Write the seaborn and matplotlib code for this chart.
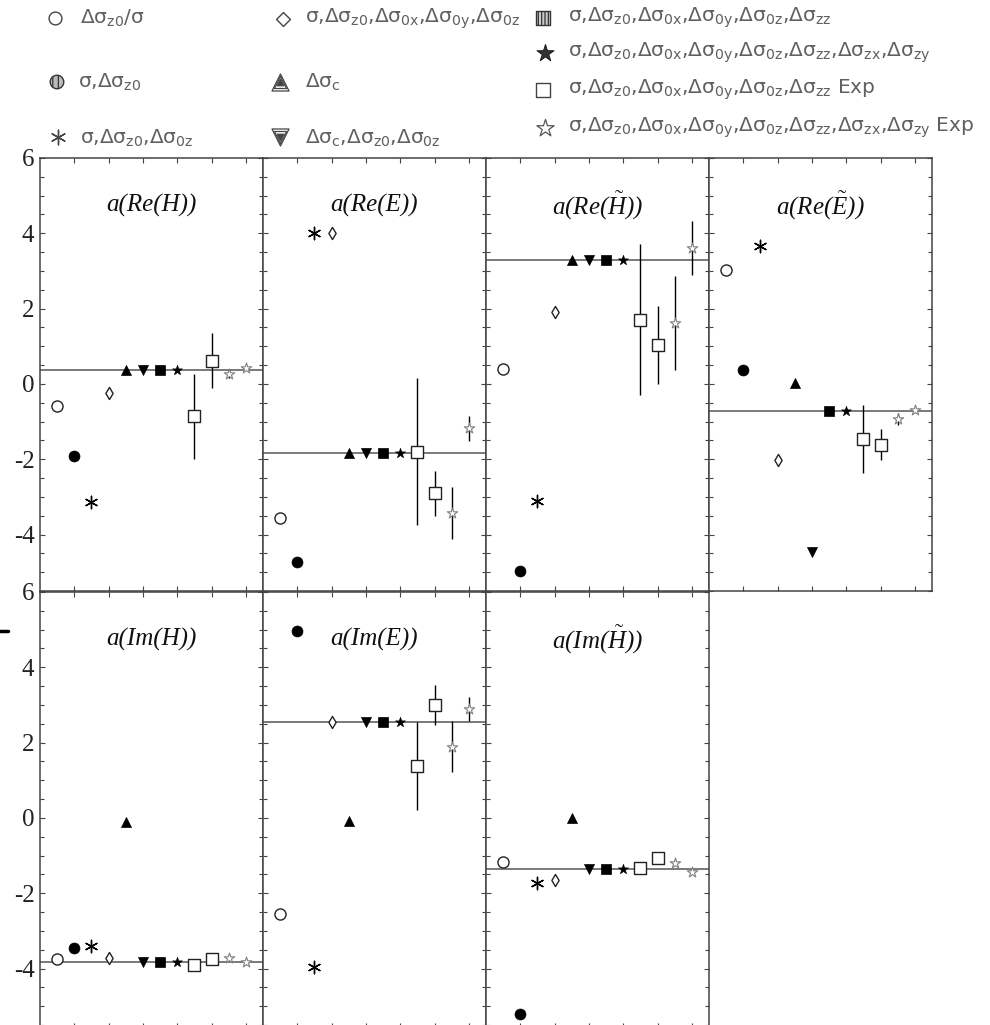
import numpy as np
import pandas as pd
import matplotlib
matplotlib.use("Agg")
import matplotlib.pyplot as plt
from matplotlib.ticker import FixedLocator, MultipleLocator
from matplotlib.lines import Line2D
import seaborn as sns

# ---------------- data ----------------
method_x = [1, 2, 3, 4, 5, 6, 7, 8, 9, 10, 11, 12]

legend_labels = [
    r"Δσ$_{\mathsf{z0}}$/σ",
    r"σ,Δσ$_{\mathsf{z0}}$",
    r"σ,Δσ$_{\mathsf{z0}}$,Δσ$_{\mathsf{0z}}$",
    r"σ,Δσ$_{\mathsf{z0}}$,Δσ$_{\mathsf{0x}}$,Δσ$_{\mathsf{0y}}$,Δσ$_{\mathsf{0z}}$",
    r"Δσ$_{\mathsf{c}}$",
    r"Δσ$_{\mathsf{c}}$,Δσ$_{\mathsf{z0}}$,Δσ$_{\mathsf{0z}}$",
    r"σ,Δσ$_{\mathsf{z0}}$,Δσ$_{\mathsf{0x}}$,Δσ$_{\mathsf{0y}}$,Δσ$_{\mathsf{0z}}$,Δσ$_{\mathsf{zz}}$",
    r"σ,Δσ$_{\mathsf{z0}}$,Δσ$_{\mathsf{0x}}$,Δσ$_{\mathsf{0y}}$,Δσ$_{\mathsf{0z}}$,Δσ$_{\mathsf{zz}}$,Δσ$_{\mathsf{zx}}$,Δσ$_{\mathsf{zy}}$",
    r"σ,Δσ$_{\mathsf{z0}}$,Δσ$_{\mathsf{0x}}$,Δσ$_{\mathsf{0y}}$,Δσ$_{\mathsf{0z}}$,Δσ$_{\mathsf{zz}}$ Exp",
    r"σ,Δσ$_{\mathsf{z0}}$,Δσ$_{\mathsf{0x}}$,Δσ$_{\mathsf{0y}}$,Δσ$_{\mathsf{0z}}$,Δσ$_{\mathsf{zz}}$,Δσ$_{\mathsf{zx}}$,Δσ$_{\mathsf{zy}}$ Exp",
]

panel_titles = ["a(Re(H))", "a(Re(E))", r"a(Re($\tilde{H}$))", r"a(Re($\tilde{E}$))",
                "a(Im(H))", "a(Im(E))", r"a(Im($\tilde{H}$))"]

re_H = [-0.58, -1.92, -3.14, -0.24, 0.38, 0.38, 0.38, 0.38, -0.86, 0.61, 0.27, 0.42]
re_H_err = [0, 0, 0, 0, 0, 0, 0, 0, 1.13, 0.73, 0.12, 0]
re_H_ref = 0.38

re_E = [-3.57, -4.74, 4.0, 4.0, -1.83, -1.83, -1.83, -1.83, -1.80, -2.90, -3.43, -1.18]
re_E_err = [0, 0, 0, 0, 0, 0, 0, 0, 1.95, 0.60, 0.70, 0.34]
re_E_ref = -1.83

re_Ht = [0.40, -4.96, -3.10, 1.92, 3.30, 3.30, 3.30, 3.30, 1.71, 1.04, 1.62, 3.61]
re_Ht_err = [0, 0, 0, 0, 0, 0, 0, 0, 2.0, 1.03, 1.24, 0.72]
re_Ht_ref = 3.30

re_Et = [3.03, 0.38, 3.67, -2.01, 0.02, -4.47, -0.72, -0.72, -1.46, -1.61, -0.93, -0.68]
re_Et_err = [0, 0, 0, 0, 0, 0, 0, 0, 0.90, 0.40, 0.15, 0]
re_Et_ref = -0.72

im_H = [-3.75, -3.46, -3.39, -3.72, -0.12, -3.84, -3.84, -3.84, -3.90, -3.75, -3.72, -3.84]
im_H_err = [0, 0, 0, 0, 0, 0, 0, 0, 0, 0, 0, 0]
im_H_ref = -3.84

im_E = [-2.55, 4.97, -3.95, 2.56, -0.07, 2.56, 2.56, 2.56, 1.38, 2.99, 1.89, 2.89]
im_E_err = [0, 0, 0, 0, 0, 0, 0, 0, 1.18, 0.53, 0.68, 0.31]
im_E_ref = 2.56

im_Ht = [-1.18, -5.20, -1.74, -1.66, 0.0, -1.37, -1.37, -1.37, -1.32, -1.07, -1.21, -1.43]
im_Ht_err = [0, 0, 0, 0, 0, 0, 0, 0, 0, 0, 0, 0]
im_Ht_ref = -1.37

panel_values = [re_H, re_E, re_Ht, re_Et, im_H, im_E, im_Ht]
panel_errors = [re_H_err, re_E_err, re_Ht_err, re_Et_err, im_H_err, im_E_err, im_Ht_err]
panel_refs = [re_H_ref, re_E_ref, re_Ht_ref, re_Et_ref, im_H_ref, im_E_ref, im_Ht_ref]

y_ticks = [-4, -2, 0, 2, 4, 6]
x_ticks = [2, 4, 6, 8, 10, 12]

# ---------------- style ----------------
sns.set_theme(style="white")
plt.rcParams["font.family"] = ["DejaVu Sans"]
plt.rcParams["axes.unicode_minus"] = False
plt.rcParams["mathtext.fontset"] = "custom"
plt.rcParams["mathtext.rm"] = "Liberation Serif"
plt.rcParams["mathtext.it"] = "Liberation Serif:italic"
plt.rcParams["mathtext.sf"] = "DejaVu Sans"
plt.rcParams["hatch.linewidth"] = 0.9

# marker style per method: (marker, size, face, edge, lw)
styles = [
    ("o", 64, "white", "#222222", 1.0),
    ("o", 62, "black", "black", 0.5),
    ((6, 2, 0), 80, "black", "black", 1.0),
    ("d", 38, "white", "#222222", 1.0),
    ("^", 52, "black", "black", 0.5),
    ("v", 52, "black", "black", 0.5),
    ("s", 52, "black", "black", 0.5),
    ("*", 55, "black", "black", 0.5),
    ("s", 66, "white", "#222222", 1.0),
    ("s", 66, "white", "#222222", 1.0),
    ("*", 62, "white", "#808080", 0.8),
    ("*", 62, "white", "#808080", 0.8),
]

W, H = 990, 1025
fig = plt.figure(figsize=(W / 100, H / 100), dpi=100)

col_left = [40, 263, 486, 709]
row_top = [158, 592]
row_h = [433, 436]
row_ylim = [(-5.5, 6), (-5.58, 6)]
pw = 223

positions = [(r, c) for r in range(2) for c in range(4)][:7]

for k, (r, c) in enumerate(positions):
    ph = row_h[r]
    ax = fig.add_axes([col_left[c] / W, 1 - (row_top[r] + ph) / H, pw / W, ph / H])
    df = pd.DataFrame({"x": method_x, "y": panel_values[k], "err": panel_errors[k]})
    ax.axhline(panel_refs[k], color="#555555", lw=1.1, zorder=1)
    eb = df[df["err"] > 0]
    ax.errorbar(eb["x"], eb["y"], yerr=eb["err"], fmt="none", ecolor="black",
                elinewidth=1.0, capsize=0, zorder=2)
    for i, (mk, s, fc, ec, lw) in enumerate(styles):
        sub = df.iloc[[i]]
        m = matplotlib.markers.MarkerStyle(mk)
        if m.is_filled():
            sns.scatterplot(data=sub, x="x", y="y", ax=ax, marker=mk, s=s,
                            color=fc, edgecolor=ec, linewidth=lw, zorder=4, legend=False)
        else:
            sns.scatterplot(data=sub, x="x", y="y", ax=ax, marker=mk, s=s,
                            color=ec, linewidth=lw, zorder=4, legend=False)
    ax.set_xlim(0, 13)
    ax.set_ylim(*row_ylim[r])
    ax.xaxis.set_major_locator(FixedLocator(x_ticks))
    ax.yaxis.set_major_locator(FixedLocator(y_ticks))
    ax.yaxis.set_minor_locator(MultipleLocator(0.5))
    ax.set_yticklabels([str(t) for t in y_ticks])
    ax.tick_params(which="both", direction="in", top=True, right=True, bottom=True,
                   left=True, labelbottom=False, labelleft=(c == 0), color="#444444",
                   width=0.8, labelsize=18, labelcolor="#222222",
                   labelfontfamily="Liberation Serif", pad=4)
    ax.tick_params(which="major", length=3.5)
    ax.tick_params(which="minor", length=3)
    ax.set_xlabel("")
    ax.set_ylabel("")
    for sp in ax.spines.values():
        sp.set_color("#444444")
        sp.set_linewidth(1.1)
    ax.text(0.5, 1 - 47 / ph, panel_titles[k], transform=ax.transAxes, ha="center",
            va="center", fontsize=18, family="Liberation Serif", style="italic",
            color="#111111")

# ---------------- legend (top band) ----------------
lax = fig.add_axes([0, 1 - 150 / H, 1, 150 / H])
lax.set_xlim(0, W)
lax.set_ylim(150, 0)
lax.axis("off")

leg_layout = [  # (marker x, text x, y)
    (55, 80, 18), (57, 78, 82), (58, 80, 137),
    (283, 305, 19), (280, 305, 82), (280, 305, 137),
    (543, 568, 18), (545, 568, 53), (543, 568, 90), (545, 568, 128),
]
leg_text_color = "#606060"
for j, (xm, xt, yy) in enumerate(leg_layout):
    if j == 0:
        lax.scatter([xm], [yy], marker="o", s=85, facecolor="white", edgecolor="#444444", lw=1)
    elif j == 1:
        lax.scatter([xm], [yy], marker="o", s=95, facecolor="#bbbbbb", edgecolor="#333333",
                    lw=1, hatch="|||")
    elif j == 2:
        lax.scatter([xm], [yy], marker=(6, 2, 0), s=110, color="#444444", lw=1)
    elif j == 3:
        lax.scatter([xm], [yy], marker="D", s=50, facecolor="white", edgecolor="#444444", lw=1)
    elif j in (4, 5):
        mk = "^" if j == 4 else "v"
        for ss, fcc in ((150, "white"), (75, "white"), (22, "#444444")):
            lax.scatter([xm], [yy], marker=mk, s=ss, facecolor=fcc, edgecolor="#444444", lw=0.9)
    elif j == 6:
        lax.scatter([xm], [yy], marker="s", s=100, facecolor="#cccccc", edgecolor="#333333",
                    lw=1, hatch="|||||")
    elif j == 7:
        lax.scatter([xm], [yy], marker="*", s=170, facecolor="#333333", edgecolor="#111111", lw=0.6)
    elif j == 8:
        lax.scatter([xm], [yy], marker="s", s=110, facecolor="white", edgecolor="#444444", lw=1)
    else:
        lax.scatter([xm], [yy], marker="*", s=170, facecolor="white", edgecolor="#555555", lw=0.9)
    lax.text(xt, yy, legend_labels[j], ha="left", va="center", fontsize=14.5,
             color=leg_text_color, family="DejaVu Sans")

# small stray dash at left edge
fig.add_artist(Line2D([0, 8 / W], [1 - 630.5 / H, 1 - 630.5 / H], color="black", lw=2.5))

fig.savefig("out.png", dpi=100)
